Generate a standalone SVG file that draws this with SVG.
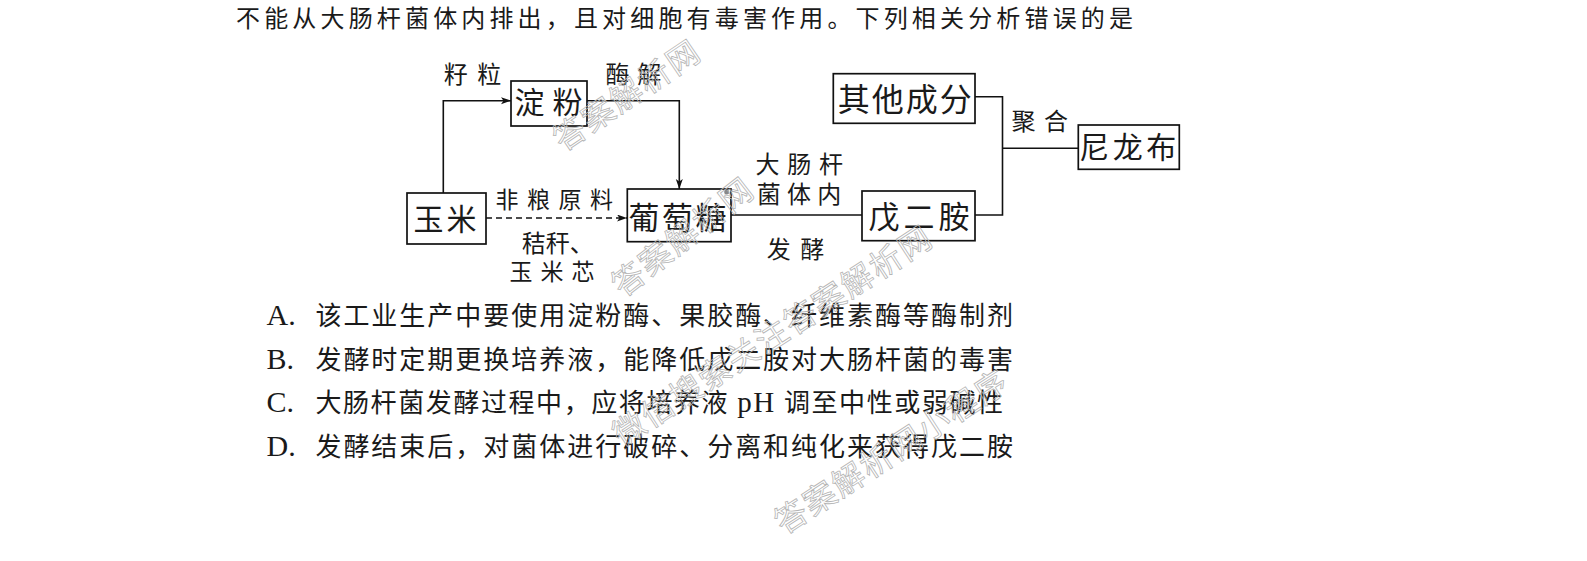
<svg xmlns="http://www.w3.org/2000/svg" width="1587" height="561" viewBox="0 0 1587 561">
<defs>
<marker id="arr" markerUnits="userSpaceOnUse" markerWidth="12" markerHeight="8" refX="10" refY="3.5" orient="auto">
<path d="M0,0 L10,3.5 L0,7 L2.5,3.5 z" fill="#111"/>
</marker>
<style>
.q{font-family:"Liberation Sans","Noto Sans CJK SC",sans-serif;fill:#1a1a1a}
.o{font-family:"Liberation Serif","Noto Sans CJK SC",serif;fill:#1a1a1a}
.t{font-family:"Liberation Serif","Noto Sans CJK SC",sans-serif;fill:#1a1a1a}
.box{fill:#fff;stroke:#111;stroke-width:1.7}
.ln{fill:none;stroke:#111;stroke-width:1.6}
.wm{font-family:"Noto Sans CJK SC",sans-serif;font-size:32px;fill:none;stroke:#b4b4b4;stroke-width:0.8;letter-spacing:2px}
</style>
</defs>
<rect width="1587" height="561" fill="#fff"/>

<text class="q" x="236" y="27" font-size="24" textLength="897" lengthAdjust="spacing">不能从大肠杆菌体内排出，且对细胞有毒害作用。下列相关分析错误的是</text>

<g id="connectors">
<polyline class="ln" points="443.3,193 443.3,100.7 511,100.7" marker-end="url(#arr)"/>
<polyline class="ln" points="587,100.7 679.3,100.7 679.3,189" marker-end="url(#arr)"/>
<line class="ln" x1="486" y1="218" x2="627" y2="218" stroke-dasharray="6,4" marker-end="url(#arr)"/>
<line class="ln" x1="731" y1="215" x2="862" y2="215"/>
<polyline class="ln" points="975,96.7 1002.5,96.7 1002.5,215 975,215"/>
<line class="ln" x1="1002.5" y1="148.3" x2="1078" y2="148.3"/>
</g>

<g id="node-dianfen">
<rect class="box" x="511" y="81" width="76" height="45"/>
<text class="t" x="514.5" y="113" font-size="30" textLength="68" lengthAdjust="spacing">淀粉</text>
</g>
<g id="node-yumi">
<rect class="box" x="407" y="193" width="79" height="51"/>
<text class="t" x="413.5" y="229.5" font-size="30" textLength="63" lengthAdjust="spacing">玉米</text>
</g>
<g id="node-putaotang">
<rect class="box" x="627.3" y="189" width="103.7" height="52.7"/>
<circle cx="726.7" cy="192" r="2.5" fill="#888"/>
<text class="t" x="628.5" y="229" font-size="31" textLength="98" lengthAdjust="spacing">葡萄糖</text>
</g>
<g id="node-qita">
<rect class="box" x="833.3" y="73.7" width="141.7" height="49.6"/>
<text class="t" x="837.7" y="111" font-size="32" textLength="134" lengthAdjust="spacing">其他成分</text>
</g>
<g id="node-wuerran">
<rect class="box" x="862" y="191" width="113" height="49.7"/>
<text class="t" x="868.5" y="228" font-size="31" textLength="101" lengthAdjust="spacing">戊二胺</text>
</g>
<g id="node-nilongbu">
<rect class="box" x="1078.3" y="125" width="101" height="44.3"/>
<text class="t" x="1079.2" y="158" font-size="30" textLength="97" lengthAdjust="spacing">尼龙布</text>
</g>

<g id="labels">
<text class="t" x="443.8" y="83.4" font-size="24" textLength="57.4" lengthAdjust="spacing">籽粒</text>
<text class="t" x="605.5" y="83" font-size="24" textLength="55.7" lengthAdjust="spacing">酶解</text>
<text class="t" x="495.5" y="208" font-size="23" textLength="117.4" lengthAdjust="spacing">非粮原料</text>
<text class="t" x="521.8" y="252" font-size="24" font-size-adjust="none">秸秆、</text>
<text class="t" x="509.5" y="280" font-size="23" textLength="85" lengthAdjust="spacing">玉米芯</text>
<text class="t" x="755.5" y="173" font-size="24" textLength="87.4" lengthAdjust="spacing">大肠杆</text>
<text class="t" x="756.8" y="203" font-size="24" textLength="84.4" lengthAdjust="spacing">菌体内</text>
<text class="t" x="766.8" y="258" font-size="24" textLength="57.4" lengthAdjust="spacing">发酵</text>
<text class="t" x="1011.5" y="130" font-size="24" textLength="56.4" lengthAdjust="spacing">聚合</text>
</g>

<g id="options">
<text class="o" x="266.5" y="325" font-size="30">A.</text>
<text class="o" x="315.4" y="325" font-size="26" textLength="697.6" lengthAdjust="spacing">该工业生产中要使用淀粉酶、果胶酶、纤维素酶等酶制剂</text>
<text class="o" x="266.5" y="368.5" font-size="30">B.</text>
<text class="o" x="315.4" y="368.5" font-size="26" textLength="697.6" lengthAdjust="spacing">发酵时定期更换培养液，能降低戊二胺对大肠杆菌的毒害</text>
<text class="o" x="266.5" y="412" font-size="30">C.</text>
<text class="o" x="315.4" y="412" font-size="26" textLength="687.6" lengthAdjust="spacing">大肠杆菌发酵过程中，应将培养液 <tspan font-size="29">pH</tspan> 调至中性或弱碱性</text>
<text class="o" x="266.5" y="455.5" font-size="30">D.</text>
<text class="o" x="315.4" y="455.5" font-size="26" textLength="697.6" lengthAdjust="spacing">发酵结束后，对菌体进行破碎、分离和纯化来获得戊二胺</text>
</g>

<g id="watermarks">
<text class="wm" x="563" y="152" transform="rotate(-34 563 152)">答案解析网</text>
<text class="wm" x="623" y="298" transform="rotate(-38 623 298)">答案解析网</text>
<text class="wm" x="622" y="447" transform="rotate(-33 622 447)">微信搜索关注答案解析网</text>
<text class="wm" x="784" y="535" transform="rotate(-33 784 535)">答案解析网小程序</text>
</g>
</svg>
